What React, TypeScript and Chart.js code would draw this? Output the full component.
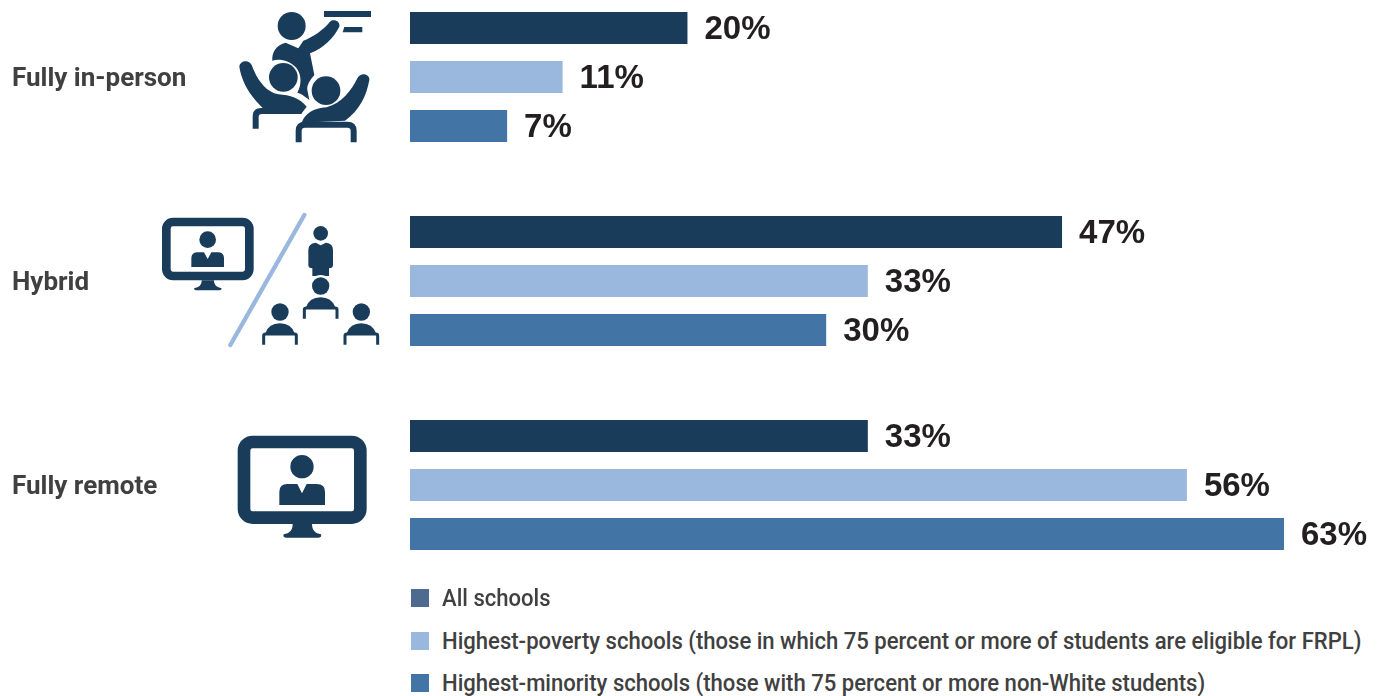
import React, { useEffect, useRef } from "react";
import { Chart, registerables } from "chart.js";

Chart.register(...registerables);

const modes = ["Fully in-person", "Hybrid", "Fully remote"];
const allSchools = [20, 47, 33];
const highestPoverty = [11, 33, 56];
const highestMinority = [7, 30, 63];

const seriesNames = ["All schools", "Highest-poverty schools", "Highest-minority schools"];
const legendLabels = [
  "All schools",
  "Highest-poverty schools (those in which 75 percent or more of students are eligible for FRPL)",
  "Highest-minority schools (those with 75 percent or more non-White students)",
];

const NAVY = "#1a3c5b";
const LIGHT = "#9ab8de";
const MID = "#4274a5";
const LEGEND_SWATCHES = ["#4f6a8f", LIGHT, MID];
const TEXT = "#404040";
const LABEL_FONT = 'Roboto, "Liberation Sans", sans-serif';

// Prints each bar's percentage just past its end.
const valueLabels = {
  id: "valueLabels",
  afterDatasetsDraw(chart: any) {
    const { ctx } = chart;
    ctx.save();
    ctx.font = 'bold 33px "Liberation Sans", sans-serif';
    ctx.fillStyle = "#231f20";
    ctx.textAlign = "left";
    ctx.textBaseline = "middle";
    chart.data.datasets.forEach((ds: any, i: number) => {
      chart.getDatasetMeta(i).data.forEach((bar: any, j: number) => {
        ctx.fillText(`${ds.data[j]}%`, bar.x + 17, bar.y + 2);
      });
    });
    ctx.restore();
  },
};

function ClassroomIcon() {
  return (
    <svg style={{ position: "absolute", left: 150, top: 0 }} width={260} height={180} viewBox="0 0 780 540" fill={NAVY}>
      <circle cx={425} cy={78} r={42} />
      <rect x={522} y={33} width={141} height={18} />
      <path d="M583,81 L637,81 L637,97 L578,97 Z" />
      <path d="M367,182 C365,155 380,135 407,128 L445,145 L460,122 C490,110 520,90 540,65 C552,55 572,65 568,80 C550,115 520,145 480,160 L493,225 C480,240 470,255 472,270 L478,300 C460,285 450,280 442,278 C455,255 455,225 440,205 C420,180 385,175 367,182 Z" />
      <circle cx={400} cy={232} r={43} />
      <path d="M268,200 C270,180 298,178 305,195 C320,235 345,275 385,283 C420,285 450,295 470,320 L455,340 L345,330 C300,290 275,245 268,200 Z" />
      <path d="M317,386 V350 Q317,333 335,333 H455" fill="none" stroke={NAVY} strokeWidth={18} />
      <circle cx={528} cy={272} r={43} />
      <path d="M658,240 C660,222 632,215 622,235 C605,270 575,310 530,322 C490,325 465,340 455,368 L585,362 C630,330 650,285 658,240 Z" />
      <path d="M446,427 V392 Q446,374 465,374 H592 Q611,374 611,392 V427" fill="none" stroke={NAVY} strokeWidth={18} />
    </svg>
  );
}

function Seated({ dx, dy }: { dx: number; dy: number }) {
  return (
    <g transform={`translate(${dx} ${dy})`}>
      <circle cx={512} cy={258} r={26} />
      <path d="M468,322 Q478,292 512,292 Q545,292 556,322 Z" />
      <path d="M463,356 V329 Q463,324 470,324 H555 Q561,324 561,329 V356" fill="none" stroke={NAVY} strokeWidth={9} />
    </g>
  );
}

function HybridIcon() {
  return (
    <svg style={{ position: "absolute", left: 150, top: 200 }} width={260} height={160} viewBox="0 0 780 480" fill={NAVY}>
      <rect x={49} y={66} width={249} height={162} rx={20} fill="none" stroke={NAVY} strokeWidth={26} />
      <path d="M155,241 H192 C192,255 200,262 215,265 Q215,271 208,271 H138 Q132,271 132,265 C148,262 155,255 155,241 Z" />
      <circle cx={173} cy={119} r={25} />
      <path d="M124,201 V175 Q124,158 142,157 L162,157 L173,177 L184,157 L205,157 Q222,158 222,175 V201 Z" />
      <line x1={463} y1={45} x2={241} y2={435} stroke={LIGHT} strokeWidth={13} strokeLinecap="round" />
      <circle cx={512} cy={100} r={22} />
      <path d="M497,128 L512,136 L528,128 Q549,130 549,150 V195 Q549,205 537,205 V228 H487 V205 Q475,205 475,195 V150 Q475,130 497,128 Z" />
      <circle cx={512} cy={258} r={33} fill="#fff" />
      <Seated dx={0} dy={0} />
      <Seated dx={-122} dy={78} />
      <Seated dx={122} dy={78} />
    </svg>
  );
}

function RemoteIcon() {
  return (
    <svg style={{ position: "absolute", left: 220, top: 420 }} width={170} height={130} viewBox="0 0 510 390" fill={NAVY}>
      <rect x={72} y={66} width={349} height={227} rx={26} fill="none" stroke={NAVY} strokeWidth={38} />
      <path d="M218,312 H276 C276,330 285,340 303,343 Q306,353 296,353 H198 Q188,353 191,343 C209,340 218,330 218,312 Z" />
      <circle cx={246} cy={140} r={35} />
      <path d="M178,255 V215 Q178,192 202,192 L232,192 L246,220 L260,192 L290,192 Q315,192 315,215 V255 Z" />
    </svg>
  );
}

export default function App() {
  const canvasRef = useRef<HTMLCanvasElement>(null);

  useEffect(() => {
    document.body.style.margin = "0";
    const seriesValues = [allSchools, highestPoverty, highestMinority];
    const seriesColors = [NAVY, LIGHT, MID];
    const chart = new Chart(canvasRef.current!, {
      type: "bar",
      data: {
        labels: modes,
        datasets: seriesNames.map((label, i) => ({
          label,
          data: seriesValues[i],
          backgroundColor: seriesColors[i],
          categoryPercentage: 0.7206,
          barPercentage: 0.653,
        })),
      },
      options: {
        indexAxis: "y",
        animation: false,
        responsive: false,
        layout: { padding: { left: 12, right: 0, top: 0, bottom: 0 } },
        plugins: { legend: { display: false }, tooltip: { enabled: false } },
        scales: {
          x: { display: false, min: 0, max: 71 },
          y: {
            afterFit(scale: any) {
              scale.width = 398;
              scale.paddingTop = 0;
              scale.paddingBottom = 0;
            },
            grid: { display: false },
            border: { display: false },
            ticks: {
              crossAlign: "far",
              labelOffset: 2,
              color: TEXT,
              font: { family: LABEL_FONT, size: 26, weight: "bold" },
            },
          },
        },
      },
      plugins: [valueLabels],
    } as any);
    return () => chart.destroy();
  }, []);

  return (
    <div style={{ position: "relative", width: 1395, height: 696, overflow: "hidden", background: "#fff" }}>
      <ClassroomIcon />
      <HybridIcon />
      <RemoteIcon />
      <canvas ref={canvasRef} width={1395} height={612} style={{ position: "absolute", left: 0, top: -25 }} />
      {legendLabels.map((text, i) => (
        <div key={text} style={{ position: "absolute", left: 411, top: 589 + i * 42.5, height: 18, display: "flex", alignItems: "center", whiteSpace: "nowrap" }}>
          <span style={{ width: 18, height: 18, background: LEGEND_SWATCHES[i], display: "inline-block", marginRight: 13 }} />
          <span style={{ fontFamily: LABEL_FONT, fontSize: 24, fontWeight: 500, color: TEXT, transformOrigin: "left center", transform: "scaleX(0.92)" }}>{text}</span>
        </div>
      ))}
    </div>
  );
}
